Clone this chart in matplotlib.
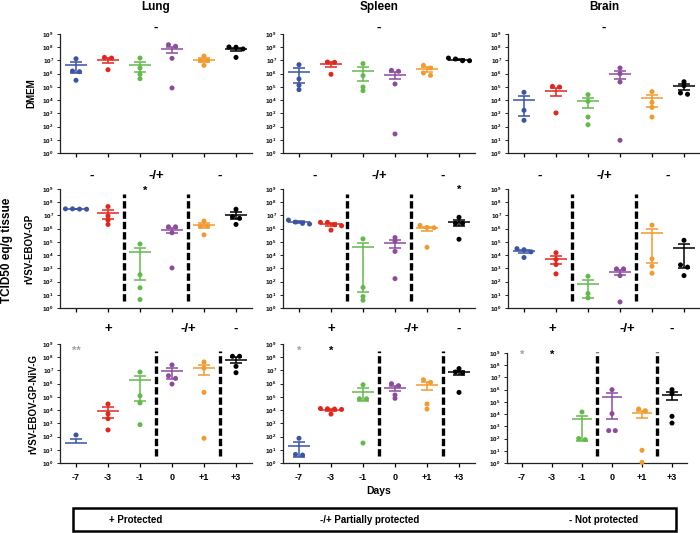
import matplotlib
matplotlib.use('Agg')
import matplotlib.pyplot as plt
import numpy as np
from matplotlib.patches import Rectangle

plt.rcParams['font.family'] = ['Liberation Sans', 'DejaVu Sans']
plt.rcParams['font.weight'] = 'bold'
plt.rcParams['mathtext.fontset'] = 'custom'
plt.rcParams['mathtext.rm'] = 'Liberation Sans:bold'
plt.rcParams['mathtext.it'] = 'Liberation Sans:bold'
plt.rcParams['mathtext.bf'] = 'Liberation Sans:bold'

days = ['-7', '-3', '-1', '0', '+1', '+3']
organs = ['Lung', 'Spleen', 'Brain']
treatments = ['DMEM', 'rVSV-EBOV-GP', 'rVSV-EBOV-GP-NiV-G']
colors = ['#3b54a4', '#e3261c', '#63b94c', '#8c4b9e', '#f29a2e', '#000000']

# log10 TCID50 eq/g per animal, one list per day; None = nothing detected
lung_dmem = [[7.13, 6.2, 6.15, 5.5], [7.23, 7.18, 6.3], [7.18, 6.43, 5.95, 5.62],
             [8.07, 8.19, 7.16, 4.92], [7.33, 7.0, 7.0, 6.63], [8.0, 7.87, 8.02, 7.23]]
spleen_dmem = [[6.68, 5.6, 5.12, 4.79], [6.88, 6.86, 5.95], [6.76, 5.85, 4.99, 4.71],
               [6.18, 6.25, 5.22, 1.44], [6.63, 6.43, 6.05, 5.87], [7.11, 6.98, 6.98, 7.18]]
brain_dmem = [[4.59, 3.23, 2.47, None], [5.04, 4.99, 3.03, None], [4.41, 3.91, 2.72, 2.14],
              [6.43, 6.0, 5.37, 0.96], [4.64, 3.83, 3.45, 2.72], [5.39, 5.09, 4.44, 4.54]]

lung_gp = [[7.5, 7.47, 7.5, 7.48], [7.67, 6.96, 6.32, 6.65], [4.84, 2.52, 1.53, 0.64],
           [6.14, 6.14, 5.69, 3.03], [6.58, 6.2, 6.2, 5.53], [7.47, 6.91, 6.78, 6.32]]
spleen_gp = [[6.65, 6.5, 6.4, 6.35], [6.48, 6.48, 6.22, 6.3, 5.89], [5.23, 1.56, 0.87, 0.59],
             [5.33, 5.05, 4.28, 2.22], [6.25, 6.09, 6.07, 4.59], [6.86, 6.4, 6.4, 5.2]]
brain_gp = [[4.49, 4.41, 4.25, 3.82], [4.18, 3.67, 3.29, 2.58], [2.4, 1.1, 0.77, None],
            [2.96, 2.96, 2.45, 0.46], [6.27, 3.72, 3.16, 2.63], [5.12, 3.26, 3.09, 2.45]]

lung_niv = [[2.12, None, None, None], [4.46, 3.71, 3.35, 2.5], [6.88, 5.09, 4.54, 2.9],
            [7.42, 6.6, 6.4, 5.97], [7.64, 7.18, 5.34, 1.87], [8.07, 8.07, 7.31, 6.83]]
spleen_niv = [[1.87, 0.65, 0.6, None], [4.1, 4.08, 4.05, 4.12, 3.7], [5.92, 4.86, 4.86, 1.51],
              [6.0, 5.85, 5.14, 4.89], [6.3, 6.1, 4.46, 4.08], [7.14, 6.88, 6.81, 5.34]]
brain_niv = [[None, None, None, None], [None, None, None, None], [4.17, 2.0, 1.91, None],
             [6.0, 4.04, 2.65, 2.65], [4.42, 4.28, 1.04, 0.05], [6.0, 5.67, 3.82, 3.27]]

panels = [[lung_dmem, spleen_dmem, brain_dmem],
          [lung_gp, spleen_gp, brain_gp],
          [lung_niv, spleen_niv, brain_niv]]

# protection calls written above each row, and where the dashed dividers go
calls = [[('-', 2.5)],
         [('-', 0.5), ('-/+', 2.5), ('-', 4.5)],
         [('+', 1), ('-/+', 3.5), ('-', 5)]]
dividers = [[], [1.5, 3.5], [2.5, 4.5]]

# significance marks: row, col, day index, log10 height, text, colour
stars = [(1, 0, 2.15, 8.85, '*', 'k'),
         (1, 1, 5, 8.9, '*', 'k'),
         (2, 0, 0, 8.45, '**', '#a0a0a0'),
         (2, 1, 0, 8.45, '*', '#a0a0a0'),
         (2, 1, 1, 8.45, '*', 'k'),
         (2, 2, 0, 8.85, '*', '#a0a0a0'),
         (2, 2, 1, 8.85, '*', 'k')]

W, H = 700, 533
fig = plt.figure(figsize=(W / 100, H / 100), dpi=100)


def px_axes(left, top, right, bottom):
    return fig.add_axes([left / W, 1 - bottom / H, (right - left) / W, (bottom - top) / H])


def spread(logs, tol=0.25, step=0.22):
    # side-by-side offsets for dots that would overlap
    order = np.argsort(-logs)
    offs = np.zeros(len(logs))
    groups, cur = [], [order[0]]
    for i in order[1:]:
        if logs[cur[-1]] - logs[i] < tol:
            cur.append(i)
        else:
            groups.append(cur)
            cur = [i]
    groups.append(cur)
    for g in groups:
        for j, idx in enumerate(g):
            offs[idx] = (j - (len(g) - 1) / 2) * step
    return offs


col_left = [60, 283, 508]
row_top = [34, 189, 344]
axes = [[None] * 3 for _ in range(3)]
for r in range(3):
    for c in range(3):
        if r == 2 and c == 2:
            ax = px_axes(507, 353, 687, 463)
        else:
            ax = px_axes(col_left[c], row_top[r], col_left[c] + 192, row_top[r] + 119)
        axes[r][c] = ax
        data = panels[r][c]
        for i, grp in enumerate(data):
            vals = np.array([0.0 if v is None else 10 ** v for v in grp])
            logs = np.array([v for v in grp if v is not None])
            col = colors[i]
            if len(logs):
                xs = i + spread(logs)
                ax.scatter(xs, 10 ** logs, s=13, color=col, edgecolors='none', zorder=3, clip_on=False)
            if vals.max() <= 0:
                continue
            m = vals.mean()
            se = vals.std(ddof=1) / np.sqrt(len(vals))
            ax.hlines(m, i - 0.34, i + 0.34, color=col, lw=1.1, zorder=2)
            ax.hlines(m + se, i - 0.2, i + 0.2, color=col, lw=1.1, zorder=2)
            lo = m - se
            if lo > 0:
                ax.hlines(lo, i - 0.2, i + 0.2, color=col, lw=1.1, zorder=2)
                ax.vlines(i, lo, m + se, color=col, lw=1.1, zorder=2)
            else:
                ax.vlines(i, m, m + se, color=col, lw=1.1, zorder=2)

        ax.set_yscale('log')
        ax.set_ylim(1, 1e9)
        ax.set_xlim(-0.5, 5.5)
        ax.set_yticks([10.0 ** k for k in range(10)])
        ax.set_yticklabels([r'$10^{%d}$' % k for k in range(10)])
        ax.minorticks_off()
        ax.set_xticks(range(6))
        if r == 2:
            ax.set_xticklabels(days, fontsize=6.5, fontweight='bold')
        else:
            ax.set_xticklabels([])
        ax.tick_params(axis='y', labelsize=4.5, length=2, width=0.6, pad=2.5)
        ax.tick_params(axis='x', length=3, width=0.9, pad=4)
        for s in ['top', 'right']:
            ax.spines[s].set_visible(False)
        for s in ['left', 'bottom']:
            ax.spines[s].set_linewidth(0.9)
            ax.spines[s].set_color('#222222')

        top_gap = [1.05, 1.11, 1.126][r]
        if r == 2 and c == 2:
            top_gap = 1.22
        for txt, xpos in calls[r]:
            ax.text(xpos, top_gap, txt, transform=ax.get_xaxis_transform(),
                    ha='center', va='center', fontsize=9.5, fontweight='bold', clip_on=False)
        span = (0.055, 0.955) if r == 1 else ((0.06, 1.01) if c == 2 else (0.06, 0.94))
        for dx in dividers[r]:
            ax.axvline(dx, span[0], span[1], color='k', lw=2.4,
                       linestyle=(0, (2.2, 0.9)), clip_on=False)

for r, c, xpos, lv, txt, col in stars:
    axes[r][c].text(xpos, 10 ** lv, txt, ha='center', va='center', color=col,
                    fontsize=8, fontweight='bold', clip_on=False)

for c, name in enumerate(organs):
    fig.text((col_left[c] + 96) / W, 1 - 7 / H, name, ha='center', va='center',
             fontsize=8.5, fontweight='bold')

for r, (name, xpx) in enumerate(zip(treatments, [31, 29, 33])):
    ymid = row_top[r] + 59.5
    fig.text(xpx / W, 1 - ymid / H, name, rotation=90, ha='center', va='center',
             fontsize=7, fontweight='bold')

fig.text(7 / W, 1 - 250 / H, 'TCID50 eq/g tissue', rotation=90, ha='center', va='center',
         fontsize=8.5, fontweight='bold')
fig.text(379 / W, 1 - 491 / H, 'Days', ha='center', va='center', fontsize=7.5, fontweight='bold')

fig.patches.append(Rectangle((73 / W, 1 - 531 / H), 603 / W, 23 / H, transform=fig.transFigure,
                             fill=False, edgecolor='k', lw=1.8))
for txt, xpx in [('+ Protected', 136), ('-/+ Partially protected', 370), ('- Not protected', 604)]:
    fig.text(xpx / W, 1 - 520 / H, txt, ha='center', va='center', fontsize=7, fontweight='bold')

fig.savefig('out.png', dpi=100)
